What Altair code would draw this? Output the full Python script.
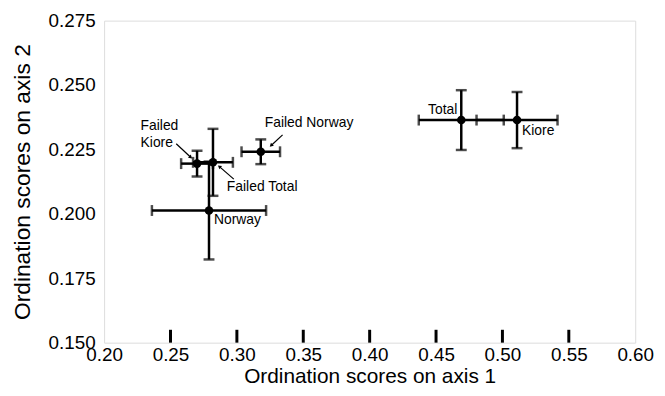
import altair as alt
import pandas as pd

# ---- data ----
groups = ["Failed Kiore", "Failed Total", "Norway", "Failed Norway", "Total", "Kiore"]
x_mean = [0.270, 0.282, 0.279, 0.318, 0.469, 0.511]
y_mean = [0.2195, 0.2200, 0.2013, 0.2241, 0.2364, 0.2364]
x_err = [0.012, 0.015, 0.043, 0.0145, 0.032, 0.0305]
y_err = [0.005, 0.013, 0.019, 0.0048, 0.0116, 0.0109]

x_tick_values = [0.20, 0.25, 0.30, 0.35, 0.40, 0.45, 0.50, 0.55, 0.60]
y_tick_values = [0.150, 0.175, 0.200, 0.225, 0.250, 0.275]
inner_ticks = [0.25, 0.30, 0.35, 0.40, 0.45, 0.50, 0.55]

label_anchor = ["Failed Kiore", "Failed Kiore", "Failed Norway", "Failed Total", "Norway", "Total", "Kiore"]
label_text = ["Failed", "Kiore", "Failed Norway", "Failed Total", "Norway", "Total", "Kiore"]

arrow_anchor = ["Failed Kiore", "Failed Norway", "Failed Total"]

# ---- layout / style (pixels) ----
W, H = 536, 325
label_layout = [  # dx, dy, align
    (-57, -38, "left"),
    (-57, -21, "left"),
    (4, -29, "left"),
    (14, 25, "left"),
    (5, 10, "left"),
    (-4, -10, "right"),
    (5, 11, "left"),
]
arrow_layout = [  # start offset, end offset, head angle
    ((-21, -20), (-5, -5), 132),
    ((22, -17), (9, -5), 226),
    ((21, 17), (5, 3), 309),
]
FONT = "Liberation Sans"

df = pd.DataFrame({"group": groups, "x": x_mean, "y": y_mean, "xe": x_err, "ye": y_err})
df["xlo"] = df["x"] - df["xe"]
df["xhi"] = df["x"] + df["xe"]
df["ylo"] = df["y"] - df["ye"]
df["yhi"] = df["y"] + df["ye"]

xs = alt.Scale(domain=[0.20, 0.60], nice=False, zero=False)
ys = alt.Scale(domain=[0.150, 0.275], nice=False, zero=False)

x_axis = alt.Axis(values=x_tick_values, format=".2f", title="Ordination scores on axis 1",
                  ticks=False, tickSize=0, domain=False, grid=False, labelFlush=False,
                  labelOverlap=False, labelFontSize=19, titleFontSize=21, labelPadding=3,
                  titlePadding=1, labelColor="black", titleColor="black", titleFontWeight="normal")
y_axis = alt.Axis(values=y_tick_values, format=".3f", title="Ordination scores on axis 2",
                  ticks=False, tickSize=0, domain=False, grid=False, labelFlush=False,
                  labelOverlap=False, labelFontSize=19, titleFontSize=23, labelPadding=9,
                  titlePadding=14, labelColor="black", titleColor="black", titleFontWeight="normal")

base = alt.Chart(df)
X = alt.X("x:Q", scale=xs, axis=x_axis)
Y = alt.Y("y:Q", scale=ys, axis=y_axis)

hbar = base.mark_rule(color="black", strokeWidth=2.5).encode(
    x=alt.X("xlo:Q", scale=xs, axis=x_axis), x2="xhi:Q", y=Y)
vbar = base.mark_rule(color="black", strokeWidth=2.5).encode(
    x=X, y=alt.Y("ylo:Q", scale=ys, axis=y_axis), y2="yhi:Q")
cap_l = base.mark_tick(color="black", orient="vertical", size=11, thickness=2.5).encode(
    x=alt.X("xlo:Q", scale=xs), y=Y)
cap_r = base.mark_tick(color="black", orient="vertical", size=11, thickness=2.5).encode(
    x=alt.X("xhi:Q", scale=xs), y=Y)
cap_b = base.mark_tick(color="black", orient="horizontal", size=11, thickness=2.5).encode(
    x=X, y=alt.Y("ylo:Q", scale=ys))
cap_t = base.mark_tick(color="black", orient="horizontal", size=11, thickness=2.5).encode(
    x=X, y=alt.Y("yhi:Q", scale=ys))
dots = base.mark_circle(color="black", opacity=1, size=75).encode(x=X, y=Y)

layers = [hbar, vbar, cap_l, cap_r, cap_b, cap_t, dots]

for name, txt, (dx, dy, al) in zip(label_anchor, label_text, label_layout):
    layers.append(
        base.transform_filter(alt.datum.group == name)
        .mark_text(text=txt, dx=dx, dy=dy, align=al, baseline="middle",
                   fontSize=14, font=FONT, color="black")
        .encode(x=X, y=Y)
    )

for name, (s, e, ang) in zip(arrow_anchor, arrow_layout):
    ux, uy = e[0] - s[0], e[1] - s[1]
    n = (ux ** 2 + uy ** 2) ** 0.5
    ux, uy = ux / n, uy / n
    sub = base.transform_filter(alt.datum.group == name)
    layers.append(
        sub.mark_rule(color="black", strokeWidth=1.2, xOffset=s[0], yOffset=s[1],
                      x2Offset=e[0] - 2 * ux, y2Offset=e[1] - 2 * uy)
        .encode(x=X, y=Y, x2="x:Q", y2="y:Q")
    )
    layers.append(
        sub.mark_point(shape="triangle", angle=ang, size=18, filled=True, color="black",
                       opacity=1, xOffset=e[0] - 2.5 * ux, yOffset=e[1] - 2.5 * uy)
        .encode(x=X, y=Y)
    )

ticks_df = pd.DataFrame({"v": inner_ticks})
tick_layer = alt.Chart(ticks_df).mark_rule(color="black", strokeWidth=3).encode(
    x=alt.X("v:Q", scale=xs, axis=x_axis), y=alt.value(H), y2=alt.value(H - 13))
layers.append(tick_layer)

chart = alt.layer(*layers).properties(
    width=W, height=H,
    autosize=alt.AutoSizeParams(type="none"),
    padding={"left": 97, "top": 11, "right": 22, "bottom": 44},
).configure_view(
    stroke="black", strokeWidth=2
).configure(font=FONT)

chart.save("out.html", embed_options={"renderer": "svg", "actions": False})
